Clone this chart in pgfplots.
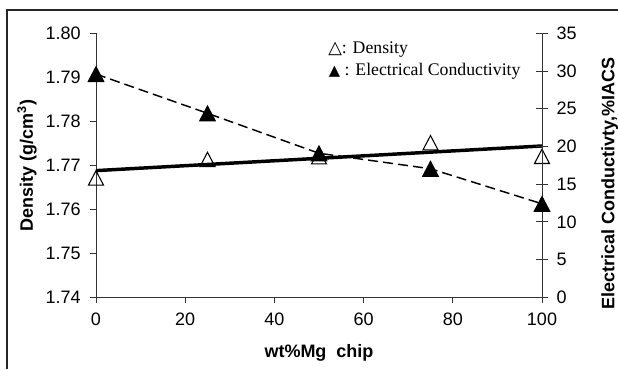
\documentclass[border=0pt]{standalone}
\usepackage{fontspec}
\setmainfont{Liberation Sans}
\newfontfamily\seriffont{Liberation Serif}
\newfontfamily\symfont{DejaVu Sans}
\usepackage{pgfplots}
\pgfplotsset{compat=1.18}

\begin{document}
\begin{tikzpicture}
\useasboundingbox (0,0) rectangle (463.5pt,-276.75pt);
\draw[line width=0.9pt, black!85] (463.5pt,-7.5pt) -- (5.25pt,-7.5pt) -- (5.25pt,-276.75pt);

\begin{axis}[
  at={(72pt,-223pt)}, anchor=south west,
  scale only axis, width=334.5pt, height=198pt,
  xmin=0, xmax=100, ymin=1.74, ymax=1.80,
  xtick={0,20,40,60,80,100},
  ytick={1.74,1.75,1.76,1.77,1.78,1.79,1.80},
  axis x line*=bottom, axis y line*=left,
  tick align=outside, major tick length=4.4pt,
  axis line style={-, line width=0.7pt, black!80},
  tick style={line width=0.7pt, black!80},
  /pgf/number format/assume math mode=true,
  ticklabel style={font=\fontsize{13.5}{16}\selectfont},
  yticklabel style={/pgf/number format/fixed, /pgf/number format/fixed zerofill,
    /pgf/number format/precision=2, xshift=-3.5pt},
  xticklabel style={yshift=-4pt},
  xlabel={wt\%Mg\ \ chip},
  ylabel={Density (g/cm\textsuperscript{3})},
  label style={font=\fontsize{13.5}{16}\selectfont\bfseries},
  xlabel style={at={(axis description cs:0.5,0)}, anchor=center, yshift=-42pt},
  ylabel style={at={(axis description cs:-0.1547,0.5)}, anchor=center},
  clip=false,
]
\addplot[only marks, mark=triangle, mark size=6.5pt,
  mark options={fill=white, draw=black, line width=0.8pt, yscale=1.1, yshift=-1.8pt}]
  coordinates {(0,1.7672) (25,1.7714) (50,1.7720) (75,1.7752) (100,1.7721)};
\addplot[black, line width=2.6pt, no marks] coordinates {(0,1.7688) (100,1.7744)};
\end{axis}

\begin{axis}[
  at={(72pt,-223pt)}, anchor=south west,
  scale only axis, width=334.5pt, height=198pt,
  xmin=0, xmax=100, ymin=0, ymax=35,
  axis x line=none, axis y line*=right,
  ytick={0,5,10,15,20,25,30,35},
  tick align=center, major tick length=8.7pt,
  axis line style={-, line width=0.7pt, black!80},
  tick style={line width=0.7pt, black!80},
  /pgf/number format/assume math mode=true,
  ticklabel style={font=\fontsize{13.5}{16}\selectfont},
  yticklabel style={xshift=3pt},
  ylabel={Electrical Conductivty,\%IACS},
  label style={font=\fontsize{13.5}{16}\selectfont\bfseries},
  ylabel style={at={(axis description cs:1.152,0.43)}, anchor=center, rotate=0},
  clip=false,
]
\addplot[black, line width=1.1pt, dash pattern=on 7.5pt off 3.8pt,
  mark=triangle*, mark size=6.5pt,
  mark options={solid, fill=black, draw=black, yscale=1.1, yshift=-1.8pt}]
  coordinates {(0,29.6) (25,24.4) (50,19.1) (75,17.05) (100,12.4)};
\end{axis}

\node[anchor=base west, inner sep=0pt, font=\fontsize{13.3}{16}\selectfont] at (246pt,-40pt)
  {{\symfont △}{\seriffont: Density}};
\node[anchor=base west, inner sep=0pt, font=\fontsize{13.3}{16}\selectfont] at (246.5pt,-56.5pt)
  {{\symfont\fontsize{11}{13}\selectfont ▲}{\seriffont\ : Electrical Conductivity}};
\end{tikzpicture}
\end{document}
